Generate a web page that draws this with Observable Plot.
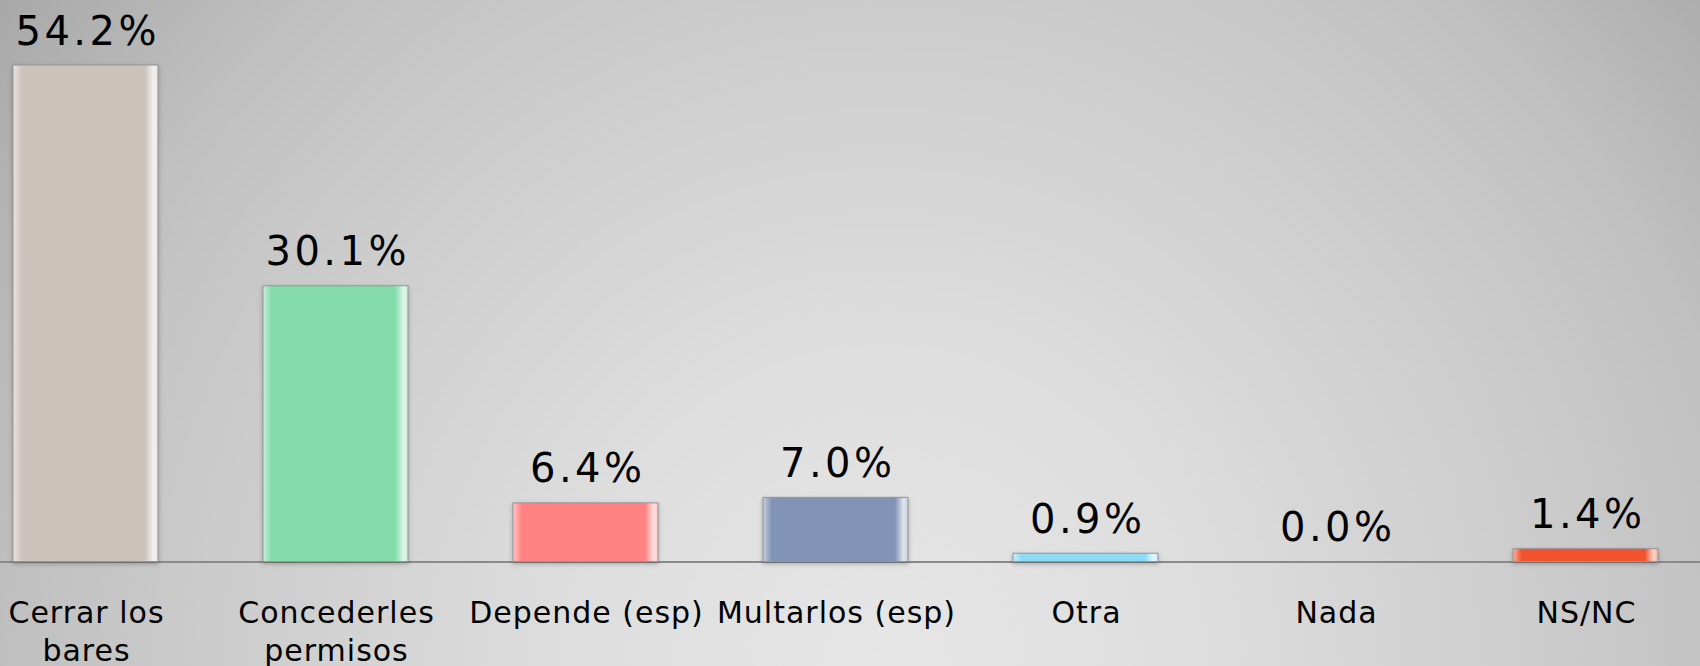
<!DOCTYPE html>
<html>
<head>
<meta charset="utf-8">
<script src="https://cdn.jsdelivr.net/npm/d3@7"></script>
<script src="https://cdn.jsdelivr.net/npm/@observablehq/plot@0.6"></script>
<style>
  html, body { margin: 0; padding: 0; }
  #chart {
    width: 1700px; height: 666px; overflow: hidden;
    background: radial-gradient(circle farthest-corner at 52% 100%, #e6e6e6 0%, #dedede 28%, #cbcbcb 62%, #c0c0c0 79%, #a8a8a8 100%);
    font-family: "DejaVu Sans", Verdana, sans-serif;
  }
  #chart svg { display: block; background: transparent; }
</style>
</head>
<body>
<div id="chart"></div>
<script>
const categories = ["Cerrar los bares", "Concederles permisos", "Depende (esp)", "Multarlos (esp)", "Otra", "Nada", "NS/NC"];
const tickLabels = ["Cerrar los\nbares", "Concederles\npermisos", "Depende (esp)", "Multarlos (esp)", "Otra", "Nada", "NS/NC"];
const values = [54.2, 30.1, 6.4, 7.0, 0.9, 0.0, 1.4];
const colors = ["#cdc3bd", "#84dcaa", "#ff8282", "#8294b5", "#8ddcf5", "#9e9e9e", "#f0532d"];

const data = categories.map((c, i) => ({category: c, value: values[i], label: tickLabels[i], idx: i}));

const svg = Plot.plot({
  width: 1700,
  height: 666,
  marginTop: 0, marginRight: 0, marginBottom: 0, marginLeft: 0,
  style: {background: "transparent", fontFamily: "'DejaVu Sans', Verdana, sans-serif"},
  x: {domain: categories, range: [-39.5, 1710.5], paddingInner: 0.42, paddingOuter: 0.21, axis: null},
  y: {domain: [0, 54.2], range: [561.5, 65], axis: null},
  color: {type: "identity"},
  marks: [
    Plot.ruleY([0], {stroke: "#8a8a8a", strokeWidth: 2}),
    Plot.barY(data.filter(d => d.value > 0), {
      x: "category", y: "value",
      fill: d => `url(#bevel${d.idx})`,
      stroke: "#969696", strokeWidth: 1
    }),
    Plot.text(data, {
      x: "category", y: "value",
      text: d => d.value.toFixed(1) + "%",
      lineAnchor: "bottom", dy: -21, dx: 1.75,
      fontSize: 40, fill: "#000"
    }),
    Plot.text(data, {
      x: "category", y: d => 0,
      text: "label",
      lineAnchor: "top", lineHeight: 1.27, dy: 34, dx: 0.5,
      fontSize: 30, fill: "#000"
    })
  ]
});

// bevel gradients built from the colour list
const defs = d3.select(svg).insert("defs", ":first-child");
colors.forEach((c, i) => {
  const base = d3.color(c);
  const light = d3.interpolateRgb(c, "#ffffff")(0.55);
  const lighter = d3.interpolateRgb(c, "#ffffff")(0.75);
  const g = defs.append("linearGradient").attr("id", `bevel${i}`).attr("x1", 0).attr("x2", 1).attr("y1", 0).attr("y2", 0);
  g.append("stop").attr("offset", "0%").attr("stop-color", light);
  g.append("stop").attr("offset", "6%").attr("stop-color", base.formatHex());
  g.append("stop").attr("offset", "91%").attr("stop-color", base.formatHex());
  g.append("stop").attr("offset", "97%").attr("stop-color", lighter);
  g.append("stop").attr("offset", "100%").attr("stop-color", light);
});

const groups = svg.querySelectorAll("g[aria-label='text']");
if (groups[0]) groups[0].style.letterSpacing = "3.5px";
if (groups[1]) groups[1].style.letterSpacing = "1px";
const bars = svg.querySelector("g[aria-label='bar']");
if (bars) bars.style.filter = "drop-shadow(0px 2px 2px rgba(0,0,0,0.25))";

document.getElementById("chart").appendChild(svg);
</script>
</body>
</html>
